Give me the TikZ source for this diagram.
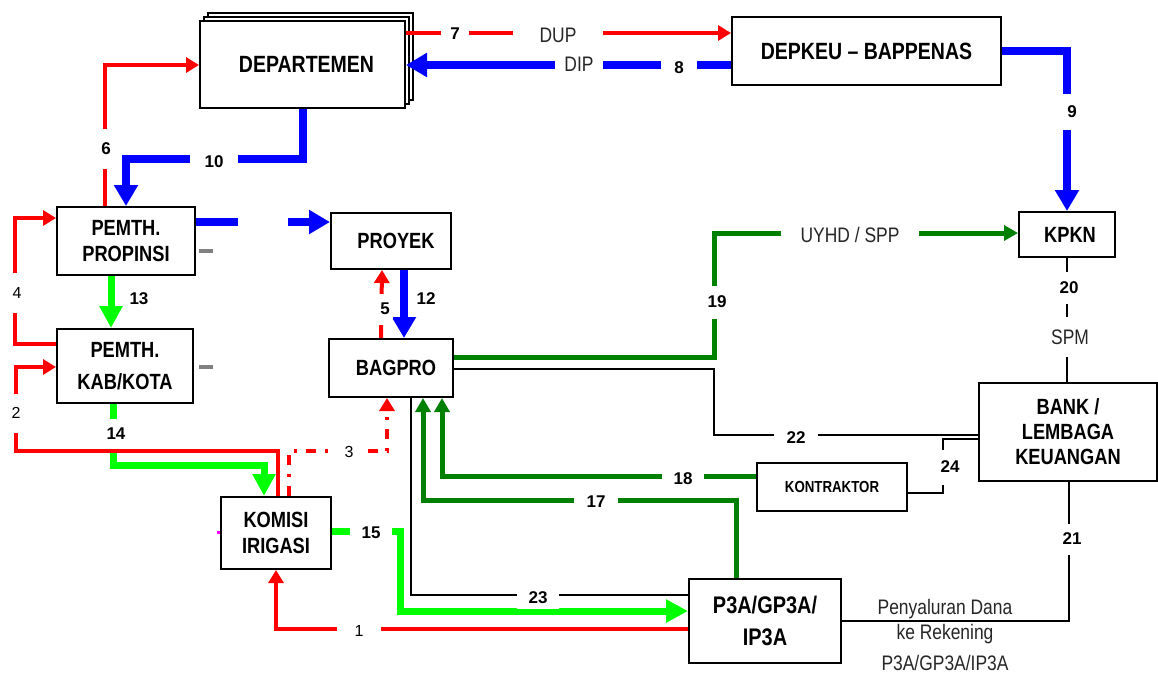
\documentclass[tikz,border=0pt]{standalone}
\usepackage{fontspec}
\setmainfont{Liberation Sans}
\newfontfamily\narrowfont{Liberation Sans}[FakeStretch=0.83]
\usepackage{xcolor}
\definecolor{flowred}{RGB}{255,0,0}
\definecolor{flowblue}{RGB}{0,0,255}
\definecolor{flowgreen}{RGB}{0,255,0}
\definecolor{flowdark}{RGB}{0,128,0}
\definecolor{stubgray}{RGB}{128,128,128}
\definecolor{stubpink}{RGB}{255,0,255}
\usetikzlibrary{arrows.meta, shadows}

\begin{document}
\begin{tikzpicture}[x=1pt, y=-1pt,
  box/.style={draw, line width=2pt, fill=white, inner sep=0pt, align=center,
    font=\narrowfont\bfseries\fontsize{22}{26}\selectfont},
  redflow/.style={draw=flowred, line width=4pt, -{Triangle[length=13pt,width=15pt]}},
  blueflow/.style={draw=flowblue, line width=8pt, -{Triangle[length=21pt,width=23pt]}},
  greenflow/.style={draw=flowgreen, line width=7pt, -{Triangle[length=22pt,width=22pt]}},
  darkflow/.style={draw=flowdark, line width=5pt, -{Triangle[length=14pt,width=15pt]}},
  thinline/.style={draw=black, line width=1.8pt},
  num/.style={fill=white, inner sep=0pt, font=\bfseries\fontsize{17}{20}\selectfont},
  numreg/.style={fill=white, inner sep=0pt, font=\fontsize{16}{19}\selectfont},
  caption/.style={inner sep=0pt, text=black!85, font=\narrowfont\fontsize{21}{24}\selectfont}]
  \useasboundingbox (0,0) rectangle (1158,673);

  % --- Boxes ---
  \node[box, minimum width=205pt, minimum height=87pt, font=\narrowfont\bfseries\fontsize{23.5}{28}\selectfont,
    double copy shadow={shadow xshift=4pt, shadow yshift=4pt, draw=black, fill=white, line width=2pt}]
    (dep) at (302.5,64.5) {\hspace{8pt}DEPARTEMEN};
  \node[box, minimum width=269pt, minimum height=68pt, font=\narrowfont\bfseries\fontsize{23.5}{28}\selectfont]
    (depkeu) at (866.5,51) {\raisebox{-6pt}{DEPKEU – BAPPENAS}};
  \node[box, minimum width=96pt, minimum height=45pt] (kpkn) at (1067,234.5) {\hspace{6pt}KPKN};
  \node[box, minimum width=138pt, minimum height=68pt] (prop) at (126,241) {PEMTH.\\PROPINSI};
  \node[box, minimum width=136pt, minimum height=74pt, font=\narrowfont\bfseries\fontsize{22}{32}\selectfont]
    (kab) at (125,366) {PEMTH.\\KAB/KOTA};
  \node[box, minimum width=120pt, minimum height=56pt] (proyek) at (391,241) {\hspace{10pt}PROYEK};
  \node[box, minimum width=124pt, minimum height=58pt] (bagpro) at (391,368) {\hspace{10pt}BAGPRO};
  \node[box, minimum width=110pt, minimum height=72pt] (komisi) at (276,533) {KOMISI\\IRIGASI};
  \node[box, minimum width=152pt, minimum height=84pt, font=\narrowfont\bfseries\fontsize{24}{32}\selectfont]
    (p3a) at (765,621) {P3A/GP3A/\\IP3A};
  \node[box, minimum width=150pt, minimum height=48pt, font=\narrowfont\bfseries\fontsize{16}{19}\selectfont]
    (kontr) at (832,487) {KONTRAKTOR};
  \node[box, minimum width=178pt, minimum height=98pt, font=\narrowfont\bfseries\fontsize{22}{25}\selectfont]
    (bank) at (1068,432) {BANK /\\LEMBAGA\\KEUANGAN};

  % --- Flows between departemen, depkeu, kpkn ---
  \draw[redflow] (dep.east |- 0,33) -- (depkeu.west |- 0,33);
  \draw[blueflow] (depkeu.west |- 0,65) -- (dep.east |- 0,65);
  \draw[blueflow] (depkeu.east |- 0,51) -| (kpkn.north);
  \draw[blueflow] (dep.south -| 303,0) |- (126,159) -- (prop.north);
  \draw[redflow] (prop.north -| 105,0) |- (dep.west |- 0,65);

  % --- Propinsi, kabupaten, proyek ---
  \draw[blueflow, dash pattern=on 42pt off 50pt on 300pt] (prop.east |- 0,222) -- (proyek.west |- 0,222);
  \draw[blueflow] (proyek.south -| 404,0) -- (bagpro.north -| 404,0);
  \draw[redflow] (bagpro.north -| 381,0) -- (proyek.south -| 382,0);
  \draw[greenflow] (prop.south -| 111,0) -- (kab.north -| 111,0);
  \draw[redflow] (kab.west |- 0,344) -| (15,218) -- (prop.west |- 0,218);
  \draw[greenflow] (kab.south -| 113,0) |- (264,465) -- (komisi.north -| 264,0);
  \draw[redflow] (komisi.north -| 278,0) |- (16,451) |- (kab.west |- 0,367);
  \draw[redflow, dash pattern=on 10pt off 9pt on 3pt off 9pt] (komisi.north -| 289,0) |- (387,451) -- (bagpro.south -| 387,0);

  % --- Komisi, P3A, bagpro ---
  \draw[greenflow] (komisi.east |- 0,531) -| (400,611) -- (p3a.west |- 0,611);
  \draw[redflow] (p3a.west |- 0,629) -| (komisi.south);
  \draw[thinline] (bagpro.south -| 411,0) |- (p3a.west |- 0,595);
  \draw[darkflow] (p3a.north -| 736,0) |- (423,500) -- (bagpro.south -| 423,0);
  \draw[darkflow] (kontr.west |- 0,476) -| (bagpro.south -| 442,0);
  \draw[darkflow] (bagpro.east |- 0,357) -| (714,233) -- (kpkn.west |- 0,233);
  \draw[thinline] (bagpro.east |- 0,369) -| (714,435) -- (bank.west |- 0,435);
  \draw[thinline] (kontr.east |- 0,493) -| (943,439) -- (bank.west |- 0,439);
  \draw[thinline] (kpkn.south -| 1067,0) -- (bank.north -| 1067,0);
  \draw[thinline] (bank.south -| 1069,0) |- (p3a.east |- 0,621);

  % small stubs
  \draw[stubgray, line width=4pt] (199,251) -- (213,251);
  \draw[stubgray, line width=4pt] (199,367) -- (213,367);
  \draw[stubpink, line width=3pt] (217,532) -- (komisi.west |- 0,532);

  % --- Labels ---
  \node[num, minimum width=28pt, minimum height=14pt] (l7) at (455,34) {7};
  \node[caption, fill=white, minimum width=90pt, minimum height=14pt] (dup) at (558,35) {DUP};
  \node[num, minimum width=36pt, minimum height=16pt] (l8) at (679,68) {8};
  \node[caption, fill=white, minimum width=48pt, minimum height=18pt] (dip) at (579,64) {DIP};
  \node[num, minimum width=20pt, minimum height=36pt] (l9) at (1072,112) {9};
  \node[num, minimum width=48pt, minimum height=16pt] (l10) at (214,162) {10};
  \node[num, minimum width=14pt, minimum height=40pt] (l6) at (106,149) {6};
  \node[num, fill=none] (l12) at (426,299) {12};
  \node[num, minimum width=16pt, minimum height=31pt] (l5) at (385,309) {5};
  \node[num, fill=none] (l13) at (139,299) {13};
  \node[numreg, minimum width=14pt, minimum height=40pt] (l4) at (17,293) {4};
  \node[numreg, minimum width=14pt, minimum height=39pt] (l2) at (16,413) {2};
  \node[numreg, minimum width=32pt, minimum height=14pt] (l3) at (349,452) {3};
  \node[num, minimum width=30pt, minimum height=30pt] (l14) at (116,434) {14};
  \node[num, minimum width=42pt, minimum height=16pt] (l15) at (371,533) {15};
  \node[numreg, minimum width=44pt, minimum height=16pt] (l1) at (359,631) {1};
  \node[num, minimum width=42pt, minimum height=22pt] (l23) at (538,598) {23};
  \node[num, minimum width=44pt, minimum height=14pt] (l17) at (596,502) {17};
  \node[num, minimum width=42pt, minimum height=14pt] (l18) at (683,479) {18};
  \node[num, minimum width=24pt, minimum height=33pt] (l19) at (717,302) {19};
  \node[caption, fill=white, minimum width=138pt, minimum height=16pt] (uyhd) at (850,235) {UYHD / SPP};
  \node[num, minimum width=44pt, minimum height=14pt] (l22) at (796,438) {22};
  \node[num, minimum width=26pt, minimum height=35pt] (l24) at (950,467) {24};
  \node[num, minimum width=24pt, minimum height=32pt] (l20) at (1069,288) {20};
  \node[caption, fill=white, minimum width=40pt, minimum height=40pt] (spm) at (1070,337) {SPM};
  \node[num, minimum width=24pt, minimum height=31pt] (l21) at (1072,539) {21};
  \node[caption, anchor=base] (pen1) at (945,614) {Penyaluran Dana};
  \node[caption, anchor=base] (pen2) at (945,639) {ke Rekening};
  \node[caption, anchor=base] (pen3) at (945,670) {P3A/GP3A/IP3A};
\end{tikzpicture}
\end{document}
